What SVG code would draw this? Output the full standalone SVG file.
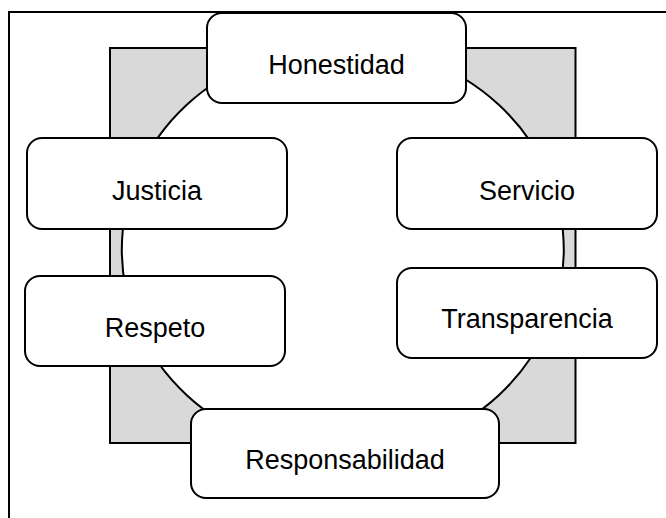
<svg xmlns="http://www.w3.org/2000/svg" width="666" height="518" viewBox="0 0 666 518">
<style>
.box{fill:#fff;stroke:#000;stroke-width:2}
.lbl{font-family:"Liberation Sans",Arial,sans-serif;font-size:27px;fill:#000;text-anchor:middle}
</style>
<rect width="666" height="518" fill="#fff"/>
<g id="frame"><path d="M9,518 V12 H666" fill="none" stroke="#000" stroke-width="2"/></g>
<g id="background">
<rect x="110" y="48" width="465.5" height="395" fill="#d9d9d9" stroke="#000" stroke-width="2"/>
<ellipse cx="342.8" cy="250" rx="221" ry="205" fill="#fff" stroke="#000" stroke-width="2"/>
</g>
<g id="connectors"></g>
<g id="honestidad"><rect class="box" x="207" y="13" width="259" height="90" rx="15"/><text class="lbl" x="336.5" y="74">Honestidad</text></g>
<g id="justicia"><rect class="box" x="27" y="138" width="260" height="91" rx="15"/><text class="lbl" x="157" y="199.5">Justicia</text></g>
<g id="servicio"><rect class="box" x="397" y="138" width="260" height="91" rx="15"/><text class="lbl" x="527" y="199.5">Servicio</text></g>
<g id="respeto"><rect class="box" x="25" y="276" width="260" height="90" rx="15"/><text class="lbl" x="155" y="336.5">Respeto</text></g>
<g id="transparencia"><rect class="box" x="397" y="268" width="260" height="90" rx="15"/><text class="lbl" x="527" y="328">Transparencia</text></g>
<g id="responsabilidad"><rect class="box" x="191" y="409" width="308" height="89" rx="15"/><text class="lbl" x="345" y="469">Responsabilidad</text></g>
</svg>
